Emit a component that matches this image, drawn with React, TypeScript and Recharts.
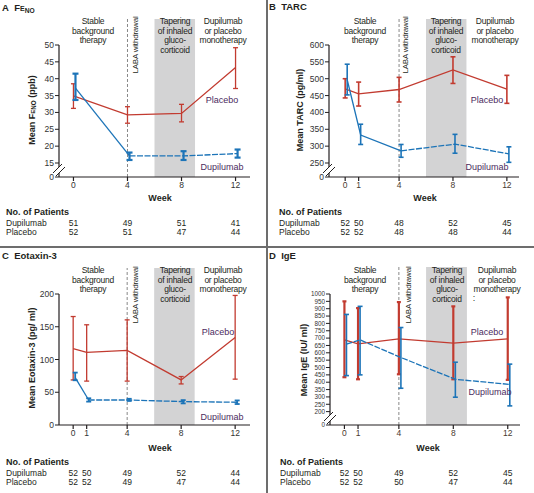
import React from "react";
import { LineChart, Line, XAxis, YAxis, ErrorBar, ReferenceArea, ReferenceLine } from "recharts";

// ---------- DATA ----------
// Panel A: FeNO (ppb)
const weeksA = [0, 4, 8, 12];
const fenoPlacebo = [34.9, 29.3, 29.7, 43.3];
const fenoPlaceboLow = [31.2, 26.8, 27.2, 37.1];
const fenoPlaceboHigh = [38.5, 31.7, 32.4, 49.2];
const fenoDupi = [37.2, 17.1, 17.1, 17.8];
const fenoDupiLow = [33.7, 15.9, 15.9, 16.6];
const fenoDupiHigh = [41.5, 18.1, 18.5, 19.0];
const fenoTicks = [0, 15, 20, 25, 30, 35, 40, 45, 50];
const patientsDupiA = [51, 49, 51, 41];
const patientsPlacA = [52, 51, 47, 44];

// Panel B: TARC (pg/ml)
const weeksB = [0, 1, 4, 8, 12];
const tarcPlacebo = [470, 455, 468, 526, 469];
const tarcPlaceboLow = [443, 419, 431, 486, 427];
const tarcPlaceboHigh = [500, 490, 504, 565, 510];
const tarcDupi = [497, 333, 286, 306, 277];
const tarcDupiLow = [452, 305, 267, 279, 252];
const tarcDupiHigh = [543, 365, 305, 335, 298];
const tarcTicks = [0, 250, 300, 350, 400, 450, 500, 550, 600];
const patientsDupiB = [52, 50, 48, 52, 45];
const patientsPlacB = [52, 52, 48, 48, 44];

// Panel C: Eotaxin-3 (pg/ml)
const weeksC = [0, 1, 4, 8, 12];
const eotPlacebo = [116.7, 111, 114, 68.8, 133.5];
const eotPlaceboLow = [68.8, 67, 67, 62.7, 70];
const eotPlaceboHigh = [165.6, 153, 160.5, 74, 197.8];
const eotDupi = [72.4, 38.2, 38.2, 35.7, 34.7];
const eotDupiLow = [68.3, 35.7, 36.7, 33, 32];
const eotDupiHigh = [80, 40.8, 40, 38, 37.5];
const eotTicks = [0, 50, 100, 150, 200];
const patientsDupiC = [52, 50, 49, 52, 44];
const patientsPlacC = [52, 52, 49, 47, 44];

// Panel D: IgE (IU/ml)
const weeksD = [0, 1, 4, 8, 12];
const igePlacebo = [688, 661, 695, 666, 695];
const igePlaceboLow = [434, 420, 454, 420, 416];
const igePlaceboHigh = [950, 904, 945, 916, 977];
const igeDupi = [659, 688, 568, 420, 385];
const igeDupiLow = [445, 450, 359, 298, 239];
const igeDupiHigh = [861, 916, 772, 536, 523];
const igeTicks = [0, 200, 250, 300, 350, 400, 450, 500, 550, 600, 650, 700, 750, 800, 850, 900, 950, 1000];
const patientsDupiD = [52, 50, 49, 52, 45];
const patientsPlacD = [52, 52, 50, 47, 44];

const phaseStable = ["Stable", "background", "therapy"];
const phaseTaper = ["Tapering", "of inhaled", "gluco-", "corticoid"];
const phaseMono = ["Dupilumab", "or placebo", "monotherapy"];

// ---------- STYLE ----------
const RED = "#c23b30";
const BLUE = "#1c74b8";
const PURPLE = "#4b2b5e";
const DARK = "#231f20";
const FONT = "'Liberation Sans', Arial, sans-serif";
const BAND_START = 6;
const BAND_END = 9;
const LABA_WEEK = 4;
const DUPI_SHIFT = 0.15;

type Row = { week: number; value: number; err: [number, number] };
function rows(weeks: number[], mean: number[], low: number[], high: number[], shift = 0): Row[] {
  return weeks.map((w, i) => ({ week: w + shift, value: mean[i], err: [mean[i] - low[i], high[i] - mean[i]] }));
}

type Pos = [number, number];
type Cfg = {
  ox: number; oy: number;
  plotLeft: number; plotRight: number; plotTop: number; plotBottom: number;
  xDomain: [number, number];
  yMax: number; base: number; hasBreak: boolean; yTicks: number[]; yFont: number;
  weeks: number[];
  plac: Row[]; dupi: Row[]; solidUntil: number;
  placW: number; dupiW: number; placCap: number; dupiCap: number;
  phaseTop: number;
  title: React.ReactNode; titleY: number;
  yLabel: React.ReactNode; yLabelPos: Pos;
  stable: Pos; taper: Pos; mono: Pos; laba: Pos; placLbl: Pos; dupiLbl: Pos; colon?: Pos;
  weekY: number; weekX: number; tableLeft: number; rowsY: [number, number, number];
  nDupi: number[]; nPlac: number[]; tickColor: string;
};

const abs = (x: number, y: number): React.CSSProperties => ({ position: "absolute", left: x, top: y });

function Lines({ lines, pos }: { lines: string[]; pos: Pos }) {
  return (
    <div style={{ position: "absolute", left: pos[0], top: pos[1] - 5, transform: "translateX(-50%)", textAlign: "center", fontSize: 8.5, letterSpacing: -0.25, lineHeight: "9.5px", color: DARK, whiteSpace: "nowrap" }}>
      {lines.map((l, i) => <div key={i}>{l}</div>)}
    </div>
  );
}

function Center({ pos, children, style }: { pos: Pos; children: React.ReactNode; style?: React.CSSProperties }) {
  return (
    <div style={{ position: "absolute", left: pos[0], top: pos[1], transform: "translate(-50%,-50%)", whiteSpace: "nowrap", ...style }}>
      {children}
    </div>
  );
}

function Panel({ c }: { c: Cfg }) {
  const chartW = 267;
  const chartH = c.plotBottom + 16;
  const pxPerUnit = (c.plotBottom - c.plotTop) / (c.yMax - c.base);
  const topVal = c.yMax + (c.plotTop - c.phaseTop) / pxPerUnit;
  const tickVals = c.yTicks.map((t) => (t === 0 ? c.base : t));
  const xPx = (w: number) => c.plotLeft + ((w - c.xDomain[0]) / (c.xDomain[1] - c.xDomain[0])) * (c.plotRight - c.plotLeft);
  const solid = c.dupi.slice(0, c.solidUntil + 1);
  const dashed = c.dupi.slice(c.solidUntil);
  const breakY = c.plotBottom - ((c.yTicks[1] - c.base) * pxPerUnit) / 2;

  return (
    <div style={{ position: "absolute", left: c.ox, top: c.oy, width: 267, height: 247, fontFamily: FONT }}>
      <div style={{ position: "absolute", left: 0, top: 0 }}>
        <LineChart width={chartW} height={chartH} margin={{ top: c.plotTop, right: chartW - c.plotRight, left: 0, bottom: 0 }}>
          <XAxis type="number" dataKey="week" domain={c.xDomain} ticks={c.weeks} allowDataOverflow
            height={16} tickSize={4} tickMargin={1} interval={0}
            axisLine={{ stroke: DARK, strokeWidth: 1.2 }} tickLine={{ stroke: DARK, strokeWidth: 1.2 }}
            tick={{ fontSize: 8.5, fill: c.tickColor, fontFamily: FONT }} />
          <YAxis type="number" domain={[c.base, c.yMax]} ticks={tickVals} allowDataOverflow interval={0}
            width={c.plotLeft} tickSize={4} tickMargin={1}
            tickFormatter={(v: number) => (Math.abs(v - c.base) < 1e-9 ? "0" : String(v))}
            axisLine={{ stroke: DARK, strokeWidth: 1.2 }} tickLine={{ stroke: DARK, strokeWidth: 1 }}
            tick={{ fontSize: c.yFont, fill: "#333", fontFamily: FONT }} />
          <ReferenceArea x1={BAND_START} x2={BAND_END} y1={c.base} y2={topVal} ifOverflow="visible" fill="#d3d3d4" fillOpacity={1} stroke="none" />
          <ReferenceLine segment={[{ x: LABA_WEEK, y: c.base }, { x: LABA_WEEK, y: topVal }]} ifOverflow="visible" stroke="#888" strokeDasharray="3 2" strokeWidth={1} />
          <Line data={c.plac} dataKey="value" stroke={RED} strokeWidth={1.3} dot={false} isAnimationActive={false}>
            <ErrorBar dataKey="err" direction="y" width={c.placCap} stroke={RED} strokeWidth={c.placW} />
          </Line>
          {solid.length > 1 && (
            <Line data={solid} dataKey="value" stroke={BLUE} strokeWidth={1.3} dot={false} isAnimationActive={false} />
          )}
          <Line data={dashed} dataKey="value" stroke={BLUE} strokeWidth={1.3} strokeDasharray="6 1.5" dot={false} isAnimationActive={false} />
          <Line data={c.dupi} dataKey="value" stroke="none" dot={false} isAnimationActive={false}>
            <ErrorBar dataKey="err" direction="y" width={c.dupiCap} stroke={BLUE} strokeWidth={c.dupiW} />
          </Line>
        </LineChart>
      </div>
      {c.hasBreak && (
        <svg style={{ position: "absolute", left: c.plotLeft - 7, top: breakY - 7 }} width={14} height={14}>
          <polygon points="1,10 10,1 13,4 4,13" fill="#fff" />
          <line x1={1} y1={10} x2={10} y2={1} stroke={DARK} strokeWidth={1} />
          <line x1={4} y1={13} x2={13} y2={4} stroke={DARK} strokeWidth={1} />
        </svg>
      )}
      <div style={{ ...abs(2, c.titleY - 6), fontSize: 9.5, fontWeight: 700, color: DARK, whiteSpace: "nowrap" }}>{c.title}</div>
      <Lines lines={phaseStable} pos={c.stable} />
      <Lines lines={phaseTaper} pos={c.taper} />
      <Lines lines={phaseMono} pos={c.mono} />
      <Center pos={c.laba} style={{ transform: "translate(-50%,-50%) rotate(-90deg)", fontSize: 8, letterSpacing: -0.2, color: DARK }}>LABA withdrawal</Center>
      <Center pos={c.placLbl} style={{ fontSize: 9, color: PURPLE }}>Placebo</Center>
      <Center pos={c.dupiLbl} style={{ fontSize: 9, color: PURPLE }}>Dupilumab</Center>
      {c.colon && <Center pos={c.colon} style={{ fontSize: 9, color: DARK }}>:</Center>}
      <Center pos={c.yLabelPos} style={{ transform: "translate(-50%,-50%) rotate(-90deg)", fontSize: 9, fontWeight: 700, color: DARK }}>{c.yLabel}</Center>
      <Center pos={[c.weekX, c.weekY]} style={{ fontSize: 9, fontWeight: 700, color: DARK }}>Week</Center>
      <div style={{ ...abs(c.tableLeft, c.rowsY[0] - 6), fontSize: 9, fontWeight: 700, color: DARK, whiteSpace: "nowrap" }}>No. of Patients</div>
      <div style={{ ...abs(c.tableLeft, c.rowsY[1] - 5.5), fontSize: 8.5, color: DARK }}>Dupilumab</div>
      <div style={{ ...abs(c.tableLeft, c.rowsY[2] - 5.5), fontSize: 8.5, color: DARK }}>Placebo</div>
      {c.weeks.map((w, i) => (
        <React.Fragment key={w}>
          <Center pos={[xPx(w), c.rowsY[1]]} style={{ fontSize: 8.5, color: DARK }}>{c.nDupi[i]}</Center>
          <Center pos={[xPx(w), c.rowsY[2]]} style={{ fontSize: 8.5, color: DARK }}>{c.nPlac[i]}</Center>
        </React.Fragment>
      ))}
    </div>
  );
}

const FeNO = () => (
  <span><span style={{ fontVariant: "small-caps" }}>Fe</span><sub style={{ fontSize: "0.7em", verticalAlign: "-0.25em" }}>NO</sub></span>
);

const cfgA: Cfg = {
  ox: 0, oy: 0, plotLeft: 59, plotRight: 250, plotTop: 45, plotBottom: 177,
  xDomain: [-1.07, 13.07], yMax: 50, base: 10.85, hasBreak: true, yTicks: fenoTicks, yFont: 8.5,
  weeks: weeksA,
  plac: rows(weeksA, fenoPlacebo, fenoPlaceboLow, fenoPlaceboHigh),
  dupi: rows(weeksA, fenoDupi, fenoDupiLow, fenoDupiHigh, DUPI_SHIFT), solidUntil: 1,
  placW: 1.3, dupiW: 2.2, placCap: 2.5, dupiCap: 3,
  phaseTop: 19,
  title: <span>A&nbsp;&nbsp;<FeNO /></span>, titleY: 8,
  yLabel: <span>Mean <FeNO /> (ppb)</span>, yLabelPos: [32, 110],
  stable: [93, 22], taper: [175, 22], mono: [223, 22], laba: [135, 45], placLbl: [222, 100], dupiLbl: [222, 167],
  weekY: 198, weekX: 160, tableLeft: 6, rowsY: [213, 223, 232],
  nDupi: patientsDupiA, nPlac: patientsPlacA, tickColor: "#333",
};

const cfgB: Cfg = {
  ox: 267, oy: 0, plotLeft: 62, plotRight: 252, plotTop: 45, plotBottom: 177,
  xDomain: [-1.2, 12.9], yMax: 600, base: 208.5, hasBreak: true, yTicks: tarcTicks, yFont: 8.5,
  weeks: weeksB,
  plac: rows(weeksB, tarcPlacebo, tarcPlaceboLow, tarcPlaceboHigh),
  dupi: rows(weeksB, tarcDupi, tarcDupiLow, tarcDupiHigh, DUPI_SHIFT), solidUntil: 2,
  placW: 1.6, dupiW: 1.6, placCap: 2.5, dupiCap: 2.5,
  phaseTop: 19,
  title: <span>B&nbsp;&nbsp;TARC</span>, titleY: 7,
  yLabel: <span>Mean TARC (pg/ml)</span>, yLabelPos: [33, 110],
  stable: [98, 22], taper: [179, 22], mono: [228, 22], laba: [138, 45], placLbl: [220, 100], dupiLbl: [220, 167],
  weekY: 198, weekX: 158, tableLeft: 12, rowsY: [213, 223, 232],
  nDupi: patientsDupiB, nPlac: patientsPlacB, tickColor: "#4a3a30",
};

const cfgC: Cfg = {
  ox: 0, oy: 245, plotLeft: 59, plotRight: 250, plotTop: 49, plotBottom: 180,
  xDomain: [-1.05, 13.1], yMax: 200, base: 0, hasBreak: false, yTicks: eotTicks, yFont: 8.5,
  weeks: weeksC,
  plac: rows(weeksC, eotPlacebo, eotPlaceboLow, eotPlaceboHigh),
  dupi: rows(weeksC, eotDupi, eotDupiLow, eotDupiHigh, DUPI_SHIFT), solidUntil: 1,
  placW: 1.3, dupiW: 1.8, placCap: 2.5, dupiCap: 2.5,
  phaseTop: 23,
  title: <span>C&nbsp;&nbsp;Eotaxin-3</span>, titleY: 11,
  yLabel: <span>Mean Eotaxin-3 (pg/ ml)</span>, yLabelPos: [32, 113],
  stable: [93, 26], taper: [175, 26], mono: [223, 26], laba: [135, 50], placLbl: [218, 87], dupiLbl: [222, 172],
  weekY: 203, weekX: 160, tableLeft: 6, rowsY: [218, 228, 237],
  nDupi: patientsDupiC, nPlac: patientsPlacC, tickColor: "#333",
};

const cfgD: Cfg = {
  ox: 267, oy: 245, plotLeft: 63, plotRight: 253, plotTop: 49, plotBottom: 180,
  xDomain: [-1.06, 12.9], yMax: 1000, base: 109, hasBreak: true, yTicks: igeTicks, yFont: 6.3,
  weeks: weeksD,
  plac: rows(weeksD, igePlacebo, igePlaceboLow, igePlaceboHigh),
  dupi: rows(weeksD, igeDupi, igeDupiLow, igeDupiHigh, DUPI_SHIFT), solidUntil: 0,
  placW: 2.2, dupiW: 1.6, placCap: 2, dupiCap: 2.5,
  phaseTop: 22,
  title: <span>D&nbsp;&nbsp;IgE</span>, titleY: 11,
  yLabel: <span>Mean IgE (IU/ ml)</span>, yLabelPos: [37, 115],
  stable: [98, 26], taper: [180, 26], mono: [230, 26], laba: [141, 50], placLbl: [220, 87], dupiLbl: [223, 147], colon: [207, 53],
  weekY: 203, weekX: 161, tableLeft: 13, rowsY: [218, 228, 237],
  nDupi: patientsDupiD, nPlac: patientsPlacD, tickColor: "#4a3a30",
};

export default function App() {
  return (
    <div style={{ position: "absolute", left: 0, top: 0, width: 534, height: 493, background: "#fff", overflow: "hidden" }}>
      <Panel c={cfgA} />
      <Panel c={cfgB} />
      <Panel c={cfgC} />
      <Panel c={cfgD} />
      <div style={{ position: "absolute", left: 266, top: 0, width: 1.5, height: 493, background: "#6d6d6d" }} />
      <div style={{ position: "absolute", left: 0, top: 246, width: 534, height: 1.5, background: "#6d6d6d" }} />
    </div>
  );
}
